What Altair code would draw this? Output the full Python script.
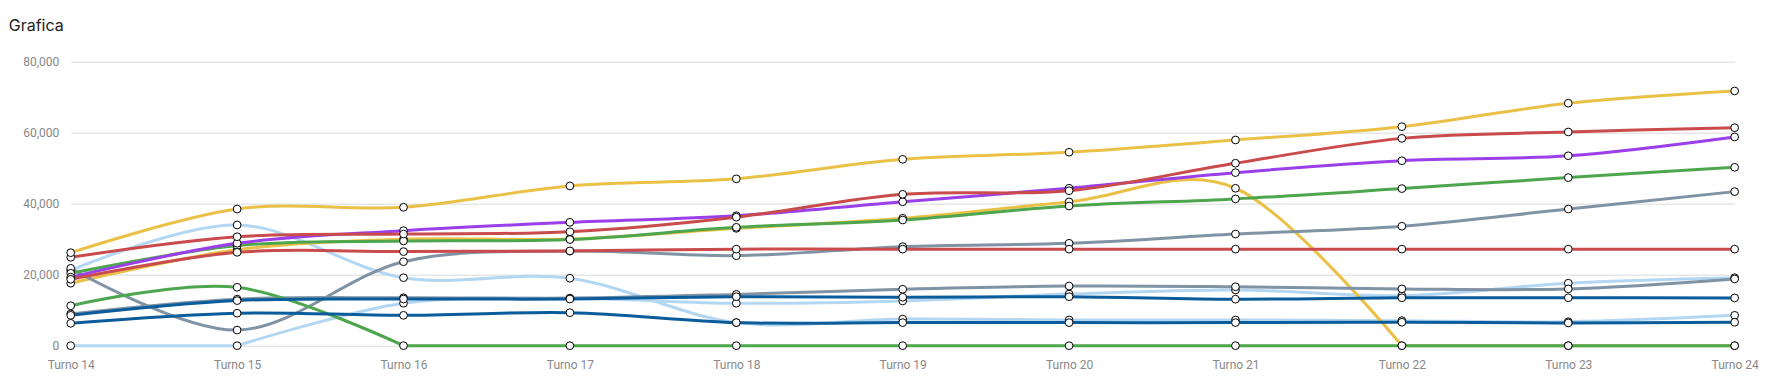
import altair as alt
import pandas as pd

chart_title = "Grafica"
turnos = ["Turno 14", "Turno 15", "Turno 16", "Turno 17", "Turno 18", "Turno 19",
          "Turno 20", "Turno 21", "Turno 22", "Turno 23", "Turno 24"]
y_ticks = [0, 20000, 40000, 60000, 80000]

# series values
light_blue_a = [21200, 34000, 19150, 19000, 6500, 7500, 7250, 7250, 7050, 6750, 8550]
light_blue_b = [0, 0, 11950, 13300, 11950, 12600, 14550, 15700, 14100, 17600, 19150]
yellow_b = [17600, 27000, 30000, 30050, 33050, 35900, 40500, 44350, 0, 0, 0]
gray_a = [21800, 4400, 23650, 26650, 25350, 27900, 28850, 31450, 33650, 38500, 43400]
gray_b = [8950, 13100, 13500, 13400, 14450, 15900, 16800, 16600, 16000, 16000, 18800]
green_a = [20400, 28200, 29500, 29900, 33350, 35400, 39350, 41350, 44250, 47350, 50250]
green_b = [11250, 16450, 0, 0, 0, 0, 0, 0, 0, 0, 0]
purple_a = [19300, 28850, 32400, 34750, 36600, 40550, 44350, 48750, 52100, 53500, 58800]
red_a = [24900, 30700, 31450, 32100, 36200, 42650, 43650, 51400, 58400, 60200, 61400]
red_b = [18700, 26300, 26500, 26700, 27200, 27200, 27200, 27200, 27200, 27200, 27200]
yellow_a = [26200, 38500, 39000, 45000, 47000, 52500, 54500, 57950, 61700, 68300, 71750]
dark_blue_a = [6300, 9150, 8550, 9300, 6500, 6500, 6500, 6500, 6600, 6400, 6600]
dark_blue_b = [8550, 12700, 13150, 13150, 13800, 13650, 13800, 13100, 13500, 13500, 13450]

series_names = ["s01", "s02", "s03", "s04", "s05", "s06", "s07",
                "s08", "s09", "s10", "s11", "s12", "s13"]
series_colors = ["#B3D7F2", "#B3D7F2", "#EAC046", "#7F93A5", "#7F93A5", "#4DA64D", "#4DA64D",
                 "#9B3FEA", "#C94B4B", "#C94B4B", "#EAC046", "#0B5C9A", "#0B5C9A"]
series_values = [light_blue_a, light_blue_b, yellow_b, gray_a, gray_b, green_a, green_b,
                 purple_a, red_a, red_b, yellow_a, dark_blue_a, dark_blue_b]

# point rows
rows = []
for name, vals in zip(series_names, series_values):
    for t, v in zip(turnos, vals):
        rows.append({"serie": name, "turno": t, "valor": v})
df_points = pd.DataFrame(rows)

# line rows: split each series where it runs flat along the zero baseline, so the
# smooth curve does not dip under the axis (the original caps its curve at the bottom)
line_rows = []
for name, vals in zip(series_names, series_values):
    piece = 0
    current = [0]
    pieces = []
    for i in range(1, len(vals)):
        flat_zero = vals[i - 1] == 0 and vals[i] == 0
        prev_flat = len(current) > 1 and vals[current[-2]] == 0 and vals[current[-1]] == 0
        if len(current) > 1 and flat_zero != prev_flat:
            pieces.append(current)
            current = [i - 1]
        current.append(i)
    pieces.append(current)
    for k, idxs in enumerate(pieces):
        for i in idxs:
            line_rows.append({"serie": name, "tramo": f"{name}_{k}", "turno": turnos[i], "valor": vals[i]})
df_lines = pd.DataFrame(line_rows)

x_enc = alt.X(
    "turno:N", sort=turnos,
    scale=alt.Scale(type="point", padding=0, domain=turnos),
    axis=alt.Axis(title=None, labelAngle=0, ticks=False, tickSize=0, domain=False, grid=False,
                  labelFont="Roboto", labelFontSize=12, labelColor="#888888", labelPadding=14),
)
y_enc = alt.Y(
    "valor:Q",
    scale=alt.Scale(domain=[0, 80000], nice=False, zero=True),
    axis=alt.Axis(title=None, values=y_ticks, format=",.0f", ticks=False, tickSize=0, domain=False,
                  gridColor="#e6e6e6", gridWidth=1.5,
                  labelFont="Roboto", labelFontSize=12, labelColor="#888888", labelPadding=12),
)

lines = alt.Chart(df_lines).mark_line(interpolate="cardinal", strokeWidth=3).encode(
    x=x_enc, y=y_enc,
    color=alt.Color("serie:N", scale=alt.Scale(domain=series_names, range=series_colors), legend=None),
    detail="tramo:N",
)

points = alt.Chart(df_points).mark_point(shape="circle", filled=False, fill="white", fillOpacity=1,
                                         stroke="black", strokeWidth=1, size=60, opacity=1).encode(
    x=x_enc, y=y_enc,
)

title_layer = alt.Chart(pd.DataFrame({"t": [chart_title]})).mark_text(
    align="left", baseline="alphabetic", font="Inter", fontSize=16, color="#222222",
    x=-62, y=-31,
).encode(text="t:N")

chart = alt.layer(lines, points, title_layer).properties(
    width=1664, height=284,
    padding={"left": 62.7, "top": 53.7, "right": 33, "bottom": 34},
    autosize=alt.AutoSizeParams(type="none"),
).configure_view(stroke=None)

chart.save("out.html", embed_options={"renderer": "svg", "actions": False})
